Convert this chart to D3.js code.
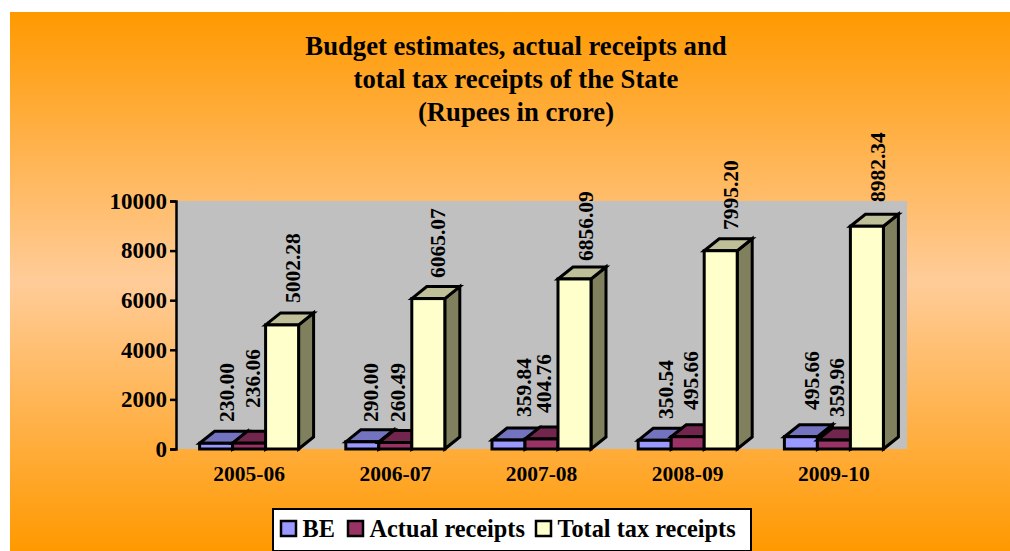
<!DOCTYPE html>
<html>
<head>
<meta charset="utf-8">
<script src="https://cdn.jsdelivr.net/npm/d3@7"></script>
<style>
    html, body { margin: 0; padding: 0; background: #fff; }
    svg { display: block; }
    text { font-family: "Liberation Serif", serif; font-weight: bold; fill: #000; }
</style>
</head>
<body>
<div id="chart"></div>
<script>
// Chart data
const years = ["2005-06", "2006-07", "2007-08", "2008-09", "2009-10"];
const seriesNames = ["BE", "Actual receipts", "Total tax receipts"];
const beValues = [230.00, 290.00, 359.84, 350.54, 495.66];
const actualValues = [236.06, 260.49, 404.76, 495.66, 359.96];
const totalValues = [5002.28, 6065.07, 6856.09, 7995.20, 8982.34];
const yTicks = [0, 2000, 4000, 6000, 8000, 10000];
const titleLines = ["Budget estimates, actual receipts and", "total tax receipts of the State", "(Rupees in crore)"];

// Face colors per series
const colors = [
    { front: "#9999ff", top: "#7373bf", side: "#5c5c99" },
    { front: "#993366", top: "#73264d", side: "#5c1f3d" },
    { front: "#ffffcc", top: "#bfbf99", side: "#80805f" }
];

// Label offsets, hand placed in the original chart
const labelDx = [
    [27, 20, 27], [25, 19, 26], [31, 18, 27], [27, 19, 26], [27, 19, 27]
];
const labelBottom = [
    [422, 408, 303], [422, 422, 278], [417, 413, 261], [419, 410, 230], [410, 417, 202]
];

const width = 1010, height = 551;
const plot = { left: 176, right: 907, top: 201, bottom: 449 };
const depth = { x: 15, y: 12 };

const svg = d3.select("#chart").append("svg")
    .attr("width", width)
    .attr("height", height);

const grad = svg.append("defs").append("linearGradient")
    .attr("id", "bg")
    .attr("x1", 0).attr("x2", 0).attr("y1", 0).attr("y2", 1);
grad.append("stop").attr("offset", "0%").attr("stop-color", "#ff9900");
grad.append("stop").attr("offset", "50%").attr("stop-color", "#ffcc99");
grad.append("stop").attr("offset", "100%").attr("stop-color", "#ff9900");

svg.append("rect")
    .attr("x", 10).attr("y", 12)
    .attr("width", width - 10).attr("height", height - 12)
    .attr("fill", "url(#bg)");

svg.append("rect")
    .attr("x", plot.left).attr("y", plot.top)
    .attr("width", plot.right - plot.left).attr("height", plot.bottom - plot.top)
    .attr("fill", "#c0c0c0");

// Title
svg.append("g").selectAll("text")
    .data(titleLines)
    .join("text")
    .attr("x", 516)
    .attr("y", (d, i) => 55 + i * 33)
    .attr("text-anchor", "middle")
    .attr("font-size", 26.7)
    .text(d => d);

// Scales
const x0 = d3.scaleBand().domain(years).range([plot.left, plot.right]);
const y = d3.scaleLinear().domain([0, 10000]).range([plot.bottom, plot.top]);
const barWidth = 33;
const x1 = d3.scaleBand().domain(seriesNames)
    .range([x0.bandwidth() / 2 - barWidth * 1.5, x0.bandwidth() / 2 + barWidth * 1.5]);

// Axes
const yAxis = d3.axisLeft(y).tickValues(yTicks).tickSize(6).tickPadding(3).tickFormat(d3.format("d"));
const yG = svg.append("g").attr("transform", `translate(${plot.left},0)`).call(yAxis);
yG.select("path").attr("stroke", "#000").attr("stroke-width", 2.5);
yG.selectAll("line").attr("stroke", "#000").attr("stroke-width", 2.5);
yG.selectAll("text").attr("font-size", 23).attr("font-family", '"Liberation Serif", serif');

const xAxis = d3.axisBottom(x0).tickSize(0).tickPadding(17);
const xG = svg.append("g").attr("transform", `translate(0,${plot.bottom})`).call(xAxis);
xG.select("path").remove();
xG.selectAll("text").attr("font-size", 21.5).attr("font-family", '"Liberation Serif", serif');

// 3D bars
const series = [beValues, actualValues, totalValues];
const faceStyle = sel => sel.attr("stroke", "#000").attr("stroke-width", 3).attr("stroke-linejoin", "miter");

years.forEach((year, i) => {
    const g = svg.append("g").attr("transform", `translate(${x0(year)},0)`);
    series.forEach((vals, s) => {
        const xl = x1(seriesNames[s]);
        const xr = xl + barWidth;
        const yt = y(vals[i]);
        const yb = y(0);
        const c = colors[s];
        g.append("polygon").call(faceStyle).attr("fill", c.side)
            .attr("points", [[xr, yb], [xr + depth.x, yb - depth.y], [xr + depth.x, yt - depth.y], [xr, yt]].join(" "));
        g.append("polygon").call(faceStyle).attr("fill", c.top)
            .attr("points", [[xl, yt], [xl + depth.x, yt - depth.y], [xr + depth.x, yt - depth.y], [xr, yt]].join(" "));
        g.append("rect").call(faceStyle).attr("fill", c.front)
            .attr("x", xl).attr("y", yt).attr("width", barWidth).attr("height", yb - yt);
    });
});

// Value labels, rotated
years.forEach((year, i) => {
    series.forEach((vals, s) => {
        const lx = x0(year) + x1(seriesNames[s]) + labelDx[i][s];
        svg.append("text")
            .attr("transform", `translate(${lx},${labelBottom[i][s]}) rotate(-90)`)
            .attr("font-size", 21.5)
            .attr("dy", "0.35em")
            .text(vals[i].toFixed(2));
    });
});

// Legend
const legend = svg.append("g");
legend.append("rect")
    .attr("x", 273).attr("y", 509).attr("width", 478).attr("height", 42)
    .attr("fill", "#fff").attr("stroke", "#000").attr("stroke-width", 2);
const legendX = [281, 348, 536];
seriesNames.forEach((name, s) => {
    legend.append("rect")
        .attr("x", legendX[s]).attr("y", 521).attr("width", 15).attr("height", 15)
        .attr("fill", colors[s].front).attr("stroke", "#000").attr("stroke-width", 2.5);
    legend.append("text")
        .attr("x", legendX[s] + 21.5).attr("y", 537)
        .attr("font-size", 24.3)
        .text(name);
});
</script>
</body>
</html>
